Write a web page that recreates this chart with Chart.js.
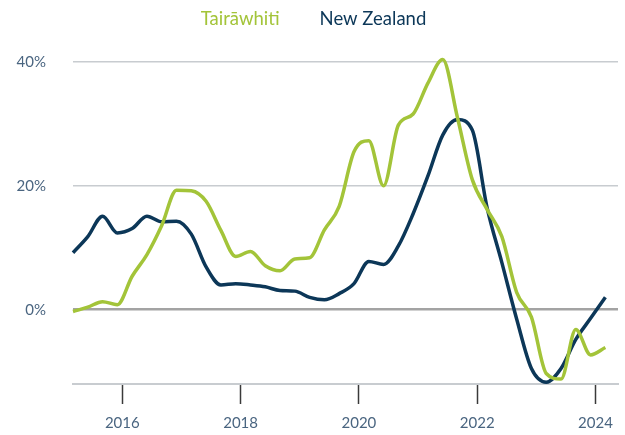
<!DOCTYPE html>
<html>
<head>
<meta charset="utf-8">
<script src="https://cdn.jsdelivr.net/npm/chart.js@4"></script>
<style>
  html, body { margin: 0; padding: 0; background: #ffffff; }
  canvas { display: block; }
</style>
</head>
<body>
<canvas id="chart" width="625" height="435"></canvas>
<script>
// Quarter-end periods (year-month)
const periods = [
  '2015-03','2015-06','2015-09','2015-12',
  '2016-03','2016-06','2016-09','2016-12',
  '2017-03','2017-06','2017-09','2017-12',
  '2018-03','2018-06','2018-09','2018-12',
  '2019-03','2019-06','2019-09','2019-12',
  '2020-03','2020-06','2020-09','2020-12',
  '2021-03','2021-06','2021-09','2021-12',
  '2022-03','2022-06','2022-09','2022-12',
  '2023-03','2023-06','2023-09','2023-12',
  '2024-03'
];

// Annual change, percent
const tairawhiti = [
  -0.3, 0.4, 1.3, 0.8,
  5.4, 8.9, 13.6, 19.3,
  19.2, 17.5, 12.8, 8.6,
  9.4, 7.1, 6.3, 8.2,
  8.4, 12.9, 16.7, 25.5,
  27.3, 20.0, 29.8, 31.6,
  36.6, 40.4, 31.0, 21.0,
  16.2, 11.8, 2.8, -1.2,
  -10.3, -11.2, -3.2, -7.3,
  -6.1
];

const newZealand = [
  9.2, 11.8, 15.1, 12.4,
  13.1, 15.1, 14.2, 14.3,
  12.2, 6.9, 4.0, 4.2,
  4.0, 3.7, 3.1, 3.0,
  2.0, 1.6, 2.6, 4.2,
  7.8, 7.3, 10.3, 15.5,
  21.6, 28.2, 30.7, 29.0,
  16.5, 7.6, -1.5, -9.5,
  -11.7, -9.5, -4.8, -1.4,
  2.0
];

const xTickYears = [2016, 2018, 2020, 2022, 2024];
const yTickValues = [0, 20, 40];

const seriesNames = ['Tairāwhiti', 'New Zealand'];
const seriesColors = ['#a3c439', '#0c3758'];

function toDecimalYear(p) {
  const [y, m] = p.split('-').map(Number);
  return y + (m - 1) / 12;
}

function points(values) {
  return values.map((v, i) => ({ x: toDecimalYear(periods[i]), y: v }));
}

const FONT = 'Lato, "Open Sans", sans-serif';
const labelColor = '#4a6580';

// Text-only legend, centred above the plot
const textLegend = {
  id: 'textLegend',
  afterDraw(chart) {
    const ctx = chart.ctx;
    const gap = 40;
    ctx.save();
    ctx.font = `18.5px ${FONT}`;
    ctx.textBaseline = 'middle';
    ctx.textAlign = 'left';
    const items = chart.data.datasets.map(ds => ({ text: ds.label, color: ds.borderColor, w: ctx.measureText(ds.label).width }));
    const total = items.reduce((s, it) => s + it.w, 0) + gap * (items.length - 1);
    let x = chart.width / 2 - total / 2 + 1;
    items.forEach(it => {
      ctx.fillStyle = it.color;
      ctx.fillText(it.text, x, 19);
      x += it.w + gap;
    });
    ctx.restore();
  }
};

new Chart(document.getElementById('chart'), {
  type: 'line',
  data: {
    datasets: [
      {
        label: seriesNames[0],
        data: points(tairawhiti),
        borderColor: seriesColors[0],
        backgroundColor: seriesColors[0],
        borderWidth: 3.5,
        pointRadius: 0,
        cubicInterpolationMode: 'monotone',
        clip: false
      },
      {
        label: seriesNames[1],
        data: points(newZealand),
        borderColor: seriesColors[1],
        backgroundColor: seriesColors[1],
        borderWidth: 3.5,
        pointRadius: 0,
        cubicInterpolationMode: 'monotone',
        clip: false
      }
    ]
  },
  plugins: [textLegend],
  options: {
    responsive: false,
    animation: false,
    layout: { padding: { top: 62, right: 7, bottom: 0, left: 0 } },
    plugins: {
      tooltip: { enabled: false },
      legend: { display: false }
    },
    scales: {
      x: {
        type: 'linear',
        min: toDecimalYear(periods[0]),
        max: 2024.38,
        afterBuildTicks: (axis) => { axis.ticks = xTickYears.map(v => ({ value: v })); },
        afterFit: (axis) => { axis.height = 51; },
        border: { display: true, color: '#c8ccd0', width: 2 },
        grid: {
          drawOnChartArea: false,
          drawTicks: true,
          tickLength: 20,
          tickColor: '#3a3a3a',
          tickWidth: 1.5
        },
        ticks: {
          color: labelColor,
          padding: 10,
          maxRotation: 0,
          font: { family: FONT, size: 15 },
          callback: (v) => String(v)
        }
      },
      y: {
        min: -12,
        max: 40,
        afterBuildTicks: (axis) => { axis.ticks = yTickValues.map(v => ({ value: v })); },
        afterFit: (axis) => { axis.width = 73; },
        border: { display: false },
        grid: {
          drawTicks: false,
          color: (ctx) => ctx.tick && ctx.tick.value === 0 ? '#a3a3a3' : '#c8ccd0',
          lineWidth: (ctx) => ctx.tick && ctx.tick.value === 0 ? 2.5 : 1.5
        },
        ticks: {
          color: labelColor,
          padding: 27,
          font: { family: FONT, size: 15 },
          callback: (v) => v + '%'
        }
      }
    }
  }
});
</script>
</body>
</html>
